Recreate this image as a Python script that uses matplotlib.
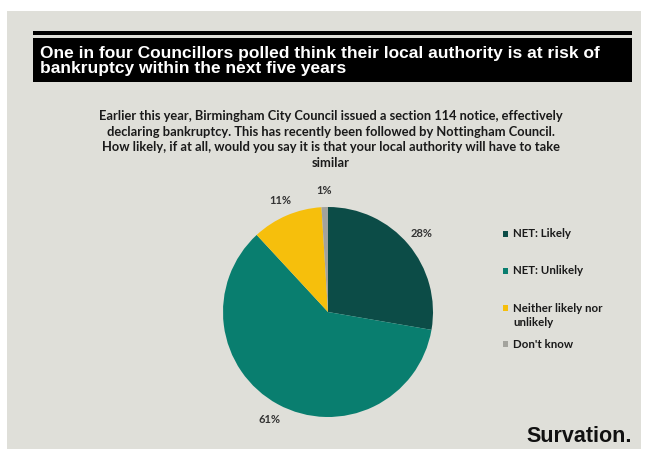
import matplotlib
matplotlib.use("Agg")
import matplotlib.pyplot as plt
from matplotlib.patches import Rectangle

# Survey data
categories = ["NET: Likely", "NET: Unlikely", "Neither likely nor\nunlikely", "Don't know"]
values = [28, 61, 11, 1]
pct_labels = ["28%", "61%", "11%", "1%"]
colors = ["#0c4c47", "#097e6f", "#f6bf0c", "#a3a39d"]

title = ("One in four Councillors polled think their local authority is at risk of\n"
         "bankruptcy within the next five years")
question = ("Earlier this year, Birmingham City Council issued a section 114 notice, effectively\n"
            "declaring bankruptcy. This has recently been followed by Nottingham Council.\n"
            "How likely, if at all, would you say it is that your local authority will have to take\n"
            "similar")
brand = "Survation."

W, H = 649, 451
BG = "#dfdfd9"

title_font = ["Liberation Sans"]
body_font = ["Lato", "DejaVu Sans"]

fig = plt.figure(figsize=(W / 100, H / 100), dpi=100, facecolor="white")


def fx(x):
    return x / W


def fy(y):
    return 1 - y / H


# panel background
fig.patches.append(Rectangle((fx(7), fy(449)), fx(641 - 7), (449 - 11) / H,
                             transform=fig.transFigure, facecolor=BG, edgecolor="none", zorder=-2))

# title bar: thin rule plus black box
fig.patches.append(Rectangle((fx(33), fy(34.5)), fx(632 - 33), 3.5 / H,
                             transform=fig.transFigure, facecolor="black", edgecolor="none", zorder=-1))
fig.patches.append(Rectangle((fx(33), fy(82)), fx(632 - 33), (82 - 38) / H,
                             transform=fig.transFigure, facecolor="black", edgecolor="none", zorder=-1))
fig.text(fx(40), fy(61), title, color="white", fontsize=12.5, fontweight="bold",
         family=title_font, ha="left", va="center", linespacing=1.05, zorder=2)

# question text
fig.text(fx(331), fy(139.5), question, color="#1a1a1a", fontsize=9.3, fontweight="bold",
         family=body_font, ha="center", va="center", linespacing=1.37, zorder=2)

# pie
cx, cy, r = 328, 312, 105
ax = fig.add_axes([fx(cx - r), fy(cy + r), 2 * r / W, 2 * r / H])
ax.set_facecolor("none")
wedges, texts = ax.pie(values, colors=colors, startangle=90, counterclock=False,
                       labels=pct_labels, labeldistance=1.16,
                       wedgeprops=dict(linewidth=0),
                       textprops=dict(fontsize=8, fontweight="bold", color="#333333",
                                      family=body_font))
for t in texts:
    t.set_ha("center")
    t.set_va("center")
ax.set_xlim(-1, 1)
ax.set_ylim(-1, 1)
ax.set_aspect("equal")
ax.axis("off")

# legend
legend_y = [234, 271, 315.5, 344]
sq_y = [234, 271, 308, 344]
for cat, col, ty, sy in zip(categories, colors, legend_y, sq_y):
    fig.patches.append(Rectangle((fx(502.5), fy(sy + 3)), 5.5 / W, 6 / H,
                                 transform=fig.transFigure, facecolor=col,
                                 edgecolor="none", zorder=2))
    fig.text(fx(513), fy(ty), cat, color="#1a1a1a", fontsize=8.3, fontweight="bold",
             family=body_font, ha="left", va="center", linespacing=1.3, zorder=2)

# brand mark
fig.text(fx(632), fy(437), brand, color="#111111", fontsize=15.5, fontweight="bold",
         family=["Liberation Sans"], ha="right", va="center", zorder=2)

fig.savefig("out.png", dpi=100, facecolor="white")
